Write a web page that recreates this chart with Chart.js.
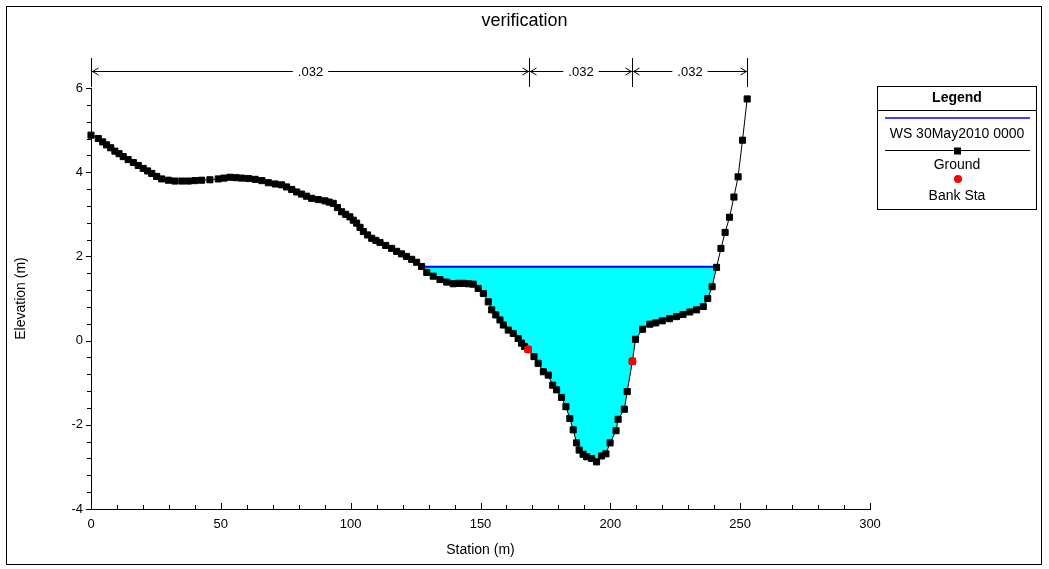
<!DOCTYPE html>
<html>
<head>
<meta charset="utf-8">
<script src="https://cdn.jsdelivr.net/npm/chart.js@4.4.1/dist/chart.umd.min.js"></script>
<style>
html,body{margin:0;padding:0;background:#fff;}
#wrap{position:relative;width:1049px;height:569px;}
</style>
</head>
<body>
<div id="wrap"><canvas id="c"></canvas></div>
<script>
// ---------- data ----------
const groundSta = [0,2.8,4.5,6.0,7.6,9.2,10.8,12.4,14.3,16.3,18.2,20.1,21.8,23.4,25.3,27.2,29.8,32.3,35.0,37.5,40.0,42.6,45.8,49.0,51.2,53.5,55.8,58.0,60.6,63.2,65.8,68.3,70.9,73.4,75.3,77.3,79.2,81.1,83.0,85.0,87.5,90.1,91.7,93.3,94.9,96.5,98.1,99.7,101.0,102.3,103.6,104.9,106.5,108.1,109.7,111.3,113.5,115.8,117.7,119.6,121.5,123.5,125.4,127.3,129.3,131.8,134.4,137.0,139.5,141.5,143.4,145.3,147.2,149.1,151.1,153.0,154.3,155.9,157.5,158.8,160.7,162.6,164.5,165.8,167.0,168.3,170.6,172.2,174.2,176.1,177.8,179.3,181.2,182.9,184.4,185.7,187.0,188.0,189.5,190.9,192.8,194.7,196.6,198.3,199.9,202.2,203.0,205.4,206.5,208.5,209.7,212.4,215.2,217.5,220.0,222.8,225.5,228.0,230.6,233.2,235.8,237.5,239.2,240.9,242.6,244.2,245.9,247.6,249.2,250.9,252.7];
const groundElev = [4.88,4.80,4.72,4.65,4.58,4.50,4.44,4.37,4.30,4.23,4.16,4.09,4.03,3.97,3.90,3.84,3.81,3.79,3.79,3.79,3.80,3.81,3.82,3.84,3.86,3.88,3.87,3.86,3.85,3.83,3.80,3.75,3.72,3.70,3.65,3.59,3.53,3.48,3.43,3.38,3.35,3.32,3.29,3.26,3.16,3.06,3.00,2.94,2.86,2.79,2.69,2.59,2.51,2.43,2.38,2.33,2.26,2.19,2.12,2.06,2.00,1.93,1.86,1.76,1.62,1.53,1.45,1.39,1.35,1.36,1.36,1.35,1.34,1.24,1.12,0.92,0.73,0.61,0.49,0.37,0.25,0.17,0.05,-0.06,-0.14,-0.21,-0.38,-0.54,-0.74,-0.82,-1.06,-1.17,-1.35,-1.57,-1.85,-2.12,-2.43,-2.60,-2.70,-2.76,-2.80,-2.88,-2.74,-2.69,-2.43,-2.14,-1.87,-1.63,-1.21,-0.49,0.03,0.27,0.39,0.42,0.47,0.52,0.57,0.62,0.68,0.73,0.81,1.00,1.28,1.74,2.19,2.57,2.93,3.41,3.89,4.76,5.74];
const bankSta = [168.3, 208.5];
const bankElev = [-0.21, -0.49];
const wsElev = 1.755;
const wsLeft = 127.3;
const wsRight = 240.9;
const nStations = [0, 168.5, 208.4, 252.7];
const nValues = ['.032', '.032', '.032'];
const xTicks = [0, 50, 100, 150, 200, 250, 300];
const yTicks = [-4, -2, 0, 2, 4, 6];
const xMinorStep = 10;
const yMinorStep = 0.4;
const legendItems = ['WS 30May2010 0000', 'Ground', 'Bank Sta'];

// ---------- derived ----------
const FONT = "'Liberation Sans', Arial, sans-serif";
const groundPts = groundSta.map((s, i) => ({x: s, y: groundElev[i]}));
const bankPts = bankSta.map((s, i) => ({x: s, y: bankElev[i]}));
const wsPts = [{x: wsLeft, y: wsElev}, {x: wsRight, y: wsElev}];
const waterPts = [{x: wsLeft, y: wsElev}]
  .concat(groundPts.filter(p => p.x > wsLeft && p.x < wsRight))
  .concat([{x: wsRight, y: wsElev}]);

// ---------- plugins ----------
const framePlugin = {
  id: 'frame',
  beforeDraw(chart) {
    const ctx = chart.ctx;
    ctx.save();
    ctx.fillStyle = '#fff';
    ctx.fillRect(0, 0, chart.width, chart.height);
    ctx.strokeStyle = '#000';
    ctx.lineWidth = 1;
    ctx.strokeRect(6.5, 6.5, 1035, 558);
    ctx.restore();
  }
};

const tickPlugin = {
  id: 'minorTicks',
  afterDraw(chart) {
    const {ctx, chartArea, scales} = chart;
    const x = scales.x, y = scales.y;
    ctx.save();
    ctx.strokeStyle = '#000';
    ctx.lineWidth = 1;
    ctx.beginPath();
    for (let v = x.min; v <= x.max + 1e-6; v += xMinorStep) {
      const px = Math.round(x.getPixelForValue(v)) + 0.5;
      const major = xTicks.some(t => Math.abs(t - v) < 1e-6);
      ctx.moveTo(px, chartArea.bottom);
      ctx.lineTo(px, chartArea.bottom - (major ? 6 : 4));
    }
    const n = Math.round((y.max - y.min) / yMinorStep);
    for (let k = 0; k <= n; k++) {
      const v = y.min + k * yMinorStep;
      const py = Math.round(y.getPixelForValue(v)) + 0.5;
      const major = yTicks.some(t => Math.abs(t - v) < 1e-6);
      ctx.moveTo(chartArea.left, py);
      ctx.lineTo(chartArea.left - (major ? 5 : 4), py);
    }
    ctx.stroke();
    ctx.restore();
  }
};

const nPlugin = {
  id: 'nValues',
  afterDraw(chart) {
    const {ctx, chartArea, scales} = chart;
    const x = scales.x;
    const top = chartArea.top;
    const yA = top - 16.5, y0 = top - 30, y1 = top - 1;
    ctx.save();
    ctx.strokeStyle = '#000';
    ctx.fillStyle = '#000';
    ctx.lineWidth = 1;
    ctx.font = '13px ' + FONT;
    ctx.textAlign = 'center';
    ctx.textBaseline = 'middle';
    const px = nStations.map(s => Math.round(x.getPixelForValue(s)) + 0.5);
    ctx.beginPath();
    px.forEach(p => { ctx.moveTo(p, y0); ctx.lineTo(p, y1); });
    for (let i = 0; i < nValues.length; i++) {
      const a = px[i], b = px[i + 1], mid = (a + b) / 2;
      const gap = ctx.measureText(nValues[i]).width / 2 + 5;
      ctx.moveTo(a, yA); ctx.lineTo(mid - gap, yA);
      ctx.moveTo(mid + gap, yA); ctx.lineTo(b, yA);
      ctx.moveTo(a + 7, yA - 3.5); ctx.lineTo(a + 1, yA); ctx.lineTo(a + 7, yA + 3.5);
      ctx.moveTo(b - 7, yA - 3.5); ctx.lineTo(b - 1, yA); ctx.lineTo(b - 7, yA + 3.5);
    }
    ctx.stroke();
    for (let i = 0; i < nValues.length; i++) {
      ctx.fillText(nValues[i], (px[i] + px[i + 1]) / 2, yA + 1);
    }
    ctx.restore();
  }
};

const legendPlugin = {
  id: 'hecLegend',
  afterDraw(chart) {
    const ctx = chart.ctx;
    const L = 877.5, T = 86.5, R = 1036.5, B = 209.5, cx = (L + R) / 2;
    ctx.save();
    ctx.fillStyle = '#fff';
    ctx.fillRect(L, T, R - L, B - T);
    ctx.strokeStyle = '#000';
    ctx.lineWidth = 1;
    ctx.strokeRect(L, T, R - L, B - T);
    ctx.beginPath(); ctx.moveTo(L, 110.5); ctx.lineTo(R, 110.5); ctx.stroke();
    ctx.fillStyle = '#000';
    ctx.textAlign = 'center';
    ctx.textBaseline = 'middle';
    ctx.font = 'bold 14px ' + FONT;
    ctx.fillText('Legend', cx, 98);
    // WS
    ctx.strokeStyle = '#0000ff';
    ctx.lineWidth = 1.5;
    ctx.beginPath(); ctx.moveTo(885, 118); ctx.lineTo(1030, 118); ctx.stroke();
    ctx.font = '14px ' + FONT;
    ctx.fillText(legendItems[0], cx, 134);
    // Ground
    ctx.strokeStyle = '#000';
    ctx.lineWidth = 1;
    ctx.beginPath(); ctx.moveTo(885, 150.5); ctx.lineTo(1030, 150.5); ctx.stroke();
    ctx.fillRect(cx - 3, 147.5, 7, 7);
    ctx.fillText(legendItems[1], cx, 165);
    // Bank
    ctx.fillStyle = '#ff0000';
    ctx.beginPath(); ctx.arc(cx + 1, 179, 4, 0, Math.PI * 2); ctx.fill();
    ctx.fillStyle = '#000';
    ctx.fillText(legendItems[2], cx, 196);
    ctx.restore();
  }
};

// ---------- chart ----------
new Chart(document.getElementById('c'), {
  type: 'scatter',
  data: {
    datasets: [
      {
        label: legendItems[2], data: bankPts, order: 0, showLine: false,
        pointStyle: 'circle', pointRadius: 4, pointBackgroundColor: '#ff0000',
        pointBorderWidth: 0, clip: false
      },
      {
        label: legendItems[1], data: groundPts, order: 1, showLine: true,
        borderColor: '#000', borderWidth: 1, tension: 0,
        pointStyle: 'rect', pointRadius: 4.3, pointBackgroundColor: '#000',
        pointBorderColor: '#000', pointBorderWidth: 1, clip: false
      },
      {
        label: legendItems[0], data: wsPts, order: 2, showLine: true,
        borderColor: '#0000ff', borderWidth: 2, pointRadius: 0, clip: false
      },
      {
        label: 'water', data: waterPts, order: 3, showLine: true,
        borderWidth: 0, borderColor: 'rgba(0,0,0,0)', backgroundColor: '#00ffff',
        fill: 'shape', pointRadius: 0, clip: false
      }
    ]
  },
  options: {
    responsive: true,
    maintainAspectRatio: false,
    animation: false,
    devicePixelRatio: 1,
    layout: { padding: { left: 0, right: 0, top: 0, bottom: 0 } },
    plugins: {
      legend: { display: false },
      tooltip: { enabled: false },
      title: {
        display: true, text: 'verification', color: '#000',
        font: { family: FONT, size: 18, weight: 'normal' },
        padding: { top: 10, bottom: 56.4 }
      }
    },
    scales: {
      x: {
        type: 'linear', min: 0, max: 300,
        afterFit(s) { s.height = 60; },
        afterBuildTicks(s) { s.ticks = xTicks.map(v => ({value: v})); },
        grid: { display: false, drawTicks: false },
        border: { display: true, color: '#000', width: 1 },
        ticks: { color: '#000', padding: 8, font: { family: FONT, size: 13 } },
        title: { display: true, text: 'Station (m)', color: '#000', padding: { top: 0, bottom: 10 },
                 font: { family: FONT, size: 14 } }
      },
      y: {
        type: 'linear', min: -4, max: 6,
        afterFit(s) { s.width = 91; },
        afterBuildTicks(s) { s.ticks = yTicks.map(v => ({value: v})); },
        grid: { display: false, drawTicks: false },
        border: { display: true, color: '#000', width: 1 },
        ticks: { color: '#000', padding: 8, font: { family: FONT, size: 13 } },
        title: { display: true, text: 'Elevation (m)', color: '#000', padding: { top: 13, bottom: 0 },
                 font: { family: FONT, size: 14 } }
      },
      yRight: {
        type: 'linear', position: 'right', min: -4, max: 6,
        afterFit(s) { s.width = 179; },
        grid: { display: false, drawTicks: false },
        border: { display: false },
        ticks: { display: false },
        title: { display: false }
      }
    }
  },
  plugins: [framePlugin, tickPlugin, nPlugin, legendPlugin]
});
</script>
</body>
</html>
